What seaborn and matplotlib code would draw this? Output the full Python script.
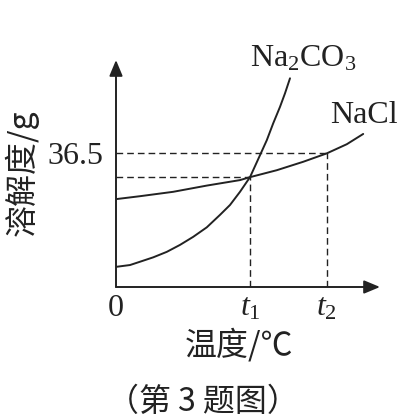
import numpy as np
import matplotlib
matplotlib.use("Agg")
import matplotlib.pyplot as plt
import seaborn as sns

# solubility curves (temperature, solubility in g)
na2co3_t = [0, 3.5, 6.0, 9.3, 12.7, 16.0, 19.3, 22.7, 26.0, 28.5, 31.0, 33.5,
            36.0, 37.7, 39.3, 41.0, 42.25, 43.5]
na2co3_s = [5.5, 6.0, 6.9, 8.1, 9.6, 11.5, 13.7, 16.3, 19.7, 22.4, 26.0, 30.0,
            36.0, 40.1, 44.7, 49.2, 52.9, 57.0]
nacl_t = [0, 6.0, 14.3, 22.7, 31.0, 33.5, 40.2, 46.8, 52.7, 57.7, 61.8]
nacl_s = [24.0, 24.8, 26.0, 27.7, 29.2, 30.0, 31.9, 34.2, 36.5, 39.0, 41.8]

t1, t2 = 33.5, 52.7
s_t1, s_t2 = 30.0, 36.5
x_ticks = [0, t1, t2]
x_ticklabels = ["0", "$t_1$", "$t_2$"]
y_ticks = [36.5]
y_ticklabels = ["36.5"]

sns.set_style("white")
plt.rcParams["font.family"] = ["Liberation Serif", "DejaVu Serif"]
plt.rcParams["mathtext.fontset"] = "custom"
plt.rcParams["mathtext.rm"] = "Liberation Serif"
plt.rcParams["mathtext.it"] = "Liberation Serif:italic"
cjk = ["Noto Sans CJK SC", "DejaVu Sans"]
ink = "#222222"

fig = plt.figure(figsize=(4.07, 4.2), dpi=100)
ax = fig.add_axes([116 / 407, 133 / 420, 264 / 407, 227 / 420])

sns.lineplot(x=na2co3_t, y=na2co3_s, ax=ax, color=ink, lw=1.4)
sns.lineplot(x=nacl_t, y=nacl_s, ax=ax, color=ink, lw=1.4)
for ln in ax.lines:
    ln.set_solid_joinstyle("round")

# guide lines
dash = (0, (4.8, 2.9))
ax.plot([0, t2], [s_t2, s_t2], color=ink, lw=1.0, ls=dash)
ax.plot([0, t1], [s_t1, s_t1], color=ink, lw=1.0, ls=dash)
ax.plot([t1, t1], [0, s_t1], color=ink, lw=1.0, ls=dash)
ax.plot([t2, t2], [0, s_t2], color=ink, lw=1.0, ls=dash)

ax.set_xlim(0, 66)
ax.set_ylim(0, 62)
for sp in ax.spines.values():
    sp.set_visible(False)

# axes with arrows
arr = dict(arrowstyle="-|>,head_length=0.6,head_width=0.25", color=ink, lw=1.4,
           mutation_scale=16, shrinkA=0, shrinkB=0)
ax.annotate("", xy=(1, 0), xytext=(0, 0), xycoords="axes fraction", arrowprops=arr)
ax.annotate("", xy=(0, 1), xytext=(0, 0), xycoords="axes fraction", arrowprops=arr)

ax.set_xticks(x_ticks)
ax.set_xticklabels(x_ticklabels, fontsize=23)
ax.set_yticks(y_ticks)
ax.set_yticklabels(y_ticklabels, fontsize=23)
ax.tick_params(axis="x", length=0, pad=5, colors=ink)
ax.tick_params(axis="y", length=0, pad=9, colors=ink)
ax.set_xlabel("")
ax.set_ylabel("")

ax.text(33.5, 60.3, "Na$_2$CO$_3$", fontsize=23, color=ink, ha="left", va="baseline", clip_on=False)
ax.text(53.5, 44.8, "NaCl", fontsize=23, color=ink, ha="left", va="baseline", clip_on=False)

fig.text(22 / 407, 1 - 173 / 420, "溶解度/g", family=cjk, fontsize=23, color=ink,
         rotation=90, ha="center", va="center")
fig.text(239 / 407, 1 - 345 / 420, "温度/℃", family=cjk, fontsize=23, color=ink,
         ha="center", va="center")
fig.text(203 / 407, 1 - 402 / 420, "（第 3 题图）", family=cjk, fontsize=23, color=ink,
         ha="center", va="center")

fig.savefig("out.png", dpi=100, facecolor="white")
